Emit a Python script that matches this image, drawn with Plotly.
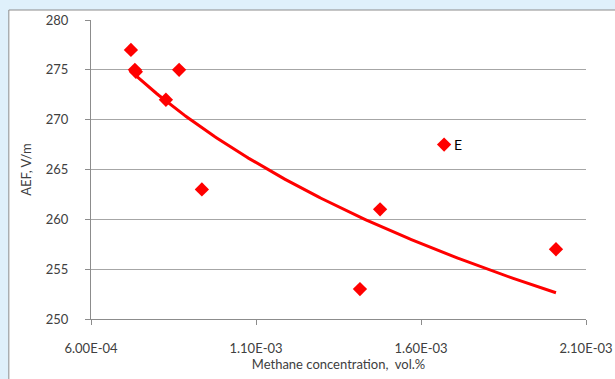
import numpy as np
import plotly.graph_objects as go

# Data
conc = [7.21e-4, 7.33e-4, 7.36e-4, 8.67e-4, 8.27e-4, 9.36e-4, 1.415e-3, 1.476e-3, 1.670e-3, 2.009e-3]
aef = [277, 275, 274.8, 275, 272, 263, 253, 261, 267.5, 257]
labels = ["", "", "", "", "", "", "", "", "E", ""]
outlier_label = "E"

x_ticks = [6.0e-4, 1.1e-3, 1.6e-3, 2.1e-3]
x_tick_text = ["6.00E-04", "1.10E-03", "1.60E-03", "2.10E-03"]
y_ticks = [250, 255, 260, 265, 270, 275, 280]

# Logarithmic trend line fitted without the outlier E
fx = np.array([c for c, l in zip(conc, labels) if l != outlier_label])
fy = np.array([a for a, l in zip(aef, labels) if l != outlier_label])
b, a = np.polyfit(np.log(fx), fy, 1)
tx = np.linspace(fx.min(), fx.max(), 200)
ty = a + b * np.log(tx)

font = dict(family="Lato, Open Sans, sans-serif", size=13, color="#404040")

fig = go.Figure()
fig.add_trace(go.Scatter(x=tx, y=ty, mode="lines", line=dict(color="#ff0000", width=3),
                         hoverinfo="skip", showlegend=False))
fig.add_trace(go.Scatter(x=conc, y=aef, mode="markers",
                         marker=dict(symbol="diamond", size=11, color="#ff0000"),
                         showlegend=False))

for c, v, l in zip(conc, aef, labels):
    if l:
        fig.add_annotation(x=c, y=v, text=l, showarrow=False, xanchor="left",
                           xshift=8, font=dict(family=font["family"], size=14, color="#000000"))

# White chart-area panel with border on the light blue page
fig.add_shape(type="rect", xref="paper", yref="paper",
              x0=-0.166, x1=1.08, y0=-0.25, y1=1.0334,
              fillcolor="white", line=dict(color="#8c8c8c", width=1), layer="below")

fig.update_layout(
    width=615, height=379,
    margin=dict(l=91, r=29, t=20, b=60, autoexpand=False),
    paper_bgcolor="#dff0fb",
    plot_bgcolor="rgba(0,0,0,0)",
    font=font,
    xaxis=dict(range=[6.0e-4, 2.1e-3], tickvals=x_ticks, ticktext=x_tick_text, automargin=False,
               showgrid=False, zeroline=False, showline=True, linecolor="#8c8c8c", linewidth=1,
               ticks="outside", ticklen=5, tickcolor="#8c8c8c", ticklabelstandoff=12,
               title=dict(text="Methane concentration,  vol.%", standoff=4,
                          font=dict(size=13, color="#404040"))),
    yaxis=dict(range=[250, 280], tickvals=y_ticks, automargin=False,
               showgrid=True, gridcolor="#a6a6a6", gridwidth=1, zeroline=False,
               showline=True, linecolor="#8c8c8c", linewidth=1,
               ticks="outside", ticklen=5, tickcolor="#8c8c8c", ticklabelstandoff=14,
               title=dict(text="AEF, V/m", standoff=11, font=dict(size=13, color="#404040"))),
)

fig.write_html("out.html", config={"displayModeBar": False},
               post_script="document.body.style.margin='0';")
